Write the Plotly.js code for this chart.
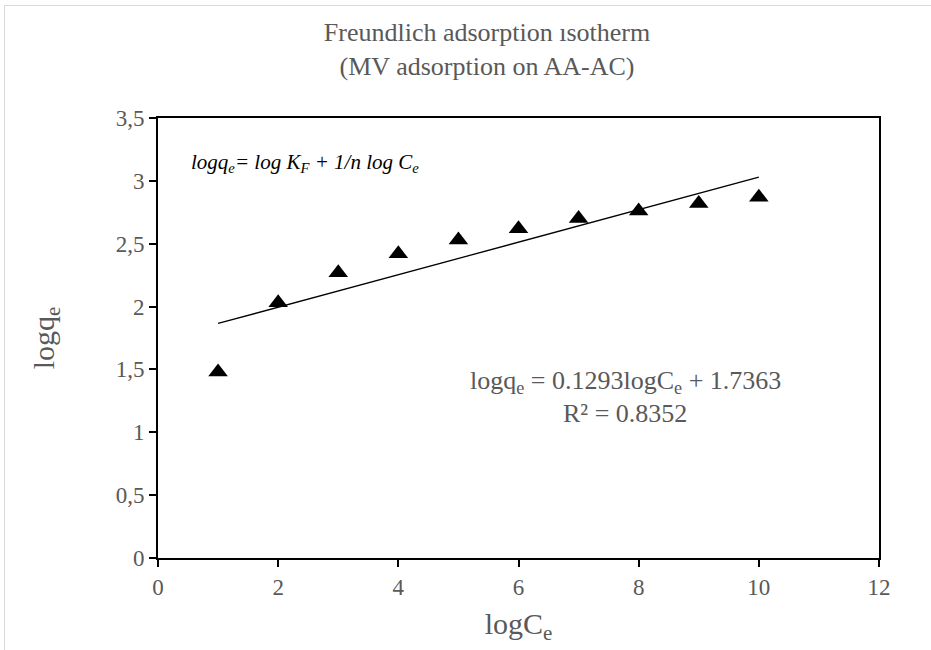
<!DOCTYPE html>
<html>
<head>
<meta charset="utf-8">
<script src="https://cdn.plot.ly/plotly-3.0.1.min.js"></script>
<style>
  html, body { margin: 0; padding: 0; background: #fff; }
  #wrap { position: relative; width: 931px; height: 650px; overflow: hidden; }
  #chart { position: absolute; left: 0; top: 0; width: 931px; height: 650px; }
  #frame { position: absolute; left: 4px; top: 5px; width: 1000px; height: 700px;
           border: 1.5px solid #d9d9d9; pointer-events: none; box-sizing: border-box; }
</style>
</head>
<body>
<div id="wrap">
  <div id="chart"></div>
  <div id="frame"></div>
</div>
<script>
// Data
const logCe = [1, 2, 3, 4, 5, 6, 7, 8, 9, 10];
const logQe = [1.48, 2.03, 2.27, 2.42, 2.53, 2.62, 2.70, 2.76, 2.82, 2.87];
// Fitted trendline coefficients as printed on the chart
const fitSlope = [0.1293];
const fitIntercept = [1.7363];
const fitR2 = [0.8352];

const trendX = [logCe[0], logCe[logCe.length - 1]];
const trendY = trendX.map(x => fitSlope[0] * x + fitIntercept[0]);

const gray = '#595959';
const serif = 'Liberation Serif';

const traces = [
  {
    x: logCe, y: logQe, type: 'scatter', mode: 'markers',
    marker: { symbol: 'triangle-up', size: 17, color: '#000' },
    hoverinfo: 'x+y', showlegend: false
  },
  {
    x: trendX, y: trendY, type: 'scatter', mode: 'lines',
    line: { color: '#000', width: 1.3 },
    hoverinfo: 'skip', showlegend: false
  }
];

const layout = {
  width: 931, height: 650,
  margin: { l: 158, r: 52, t: 118, b: 92 },
  paper_bgcolor: 'rgba(0,0,0,0)',
  plot_bgcolor: '#fff',
  separators: ',.',
  font: { family: serif, color: gray, size: 22 },
  title: {
    text: 'Freundlich adsorption ısotherm<br>(MV adsorption on AA-AC)',
    font: { family: serif, size: 26, color: gray },
    x: 487 / 931, xanchor: 'center', xref: 'container',
    y: 1 - 41 / 650, yanchor: 'middle', yref: 'container'
  },
  xaxis: {
    range: [0, 12], dtick: 2, tick0: 0,
    showline: true, mirror: true, linecolor: '#000', linewidth: 2,
    ticks: 'outside', ticklen: 7, tickwidth: 2, tickcolor: '#000',
    showgrid: false, zeroline: false,
    tickfont: { family: serif, size: 23, color: gray },
    title: { text: 'logC<sub>e</sub>', font: { family: serif, size: 30, color: gray }, standoff: 14 }
  },
  yaxis: {
    range: [0, 3.5], dtick: 0.5, tick0: 0,
    showline: true, mirror: true, linecolor: '#000', linewidth: 2,
    ticks: 'outside', ticklen: 7, tickwidth: 2, tickcolor: '#000',
    showgrid: false, zeroline: false,
    tickfont: { family: serif, size: 23, color: gray },
    title: { text: 'logq<sub>e</sub>', font: { family: serif, size: 30, color: gray }, standoff: 52 }
  },
  annotations: [
    {
      xref: 'paper', yref: 'paper', x: (189 - 158) / 721, y: (558 - 163) / 440, xanchor: 'left', yanchor: 'middle',
      text: '<i>logq<sub>e</sub>= log K<sub>F</sub> + 1/n log C<sub>e</sub></i>',
      showarrow: false, font: { family: serif, size: 21, color: '#000' }
    },
    {
      xref: 'paper', yref: 'paper', x: (625 - 158) / 721, y: (558 - 382) / 440, xanchor: 'center', yanchor: 'middle',
      text: 'logq<sub>e</sub> = ' + fitSlope[0].toFixed(4) + 'logC<sub>e</sub> + ' + fitIntercept[0].toFixed(4),
      showarrow: false, font: { family: serif, size: 26, color: gray }
    },
    {
      xref: 'paper', yref: 'paper', x: (625 - 158) / 721, y: (558 - 413) / 440, xanchor: 'center', yanchor: 'middle',
      text: 'R² = ' + fitR2[0].toFixed(4),
      showarrow: false, font: { family: serif, size: 26, color: gray }
    }
  ]
};

Plotly.newPlot('chart', traces, layout, { displayModeBar: false, staticPlot: true });
</script>
</body>
</html>
